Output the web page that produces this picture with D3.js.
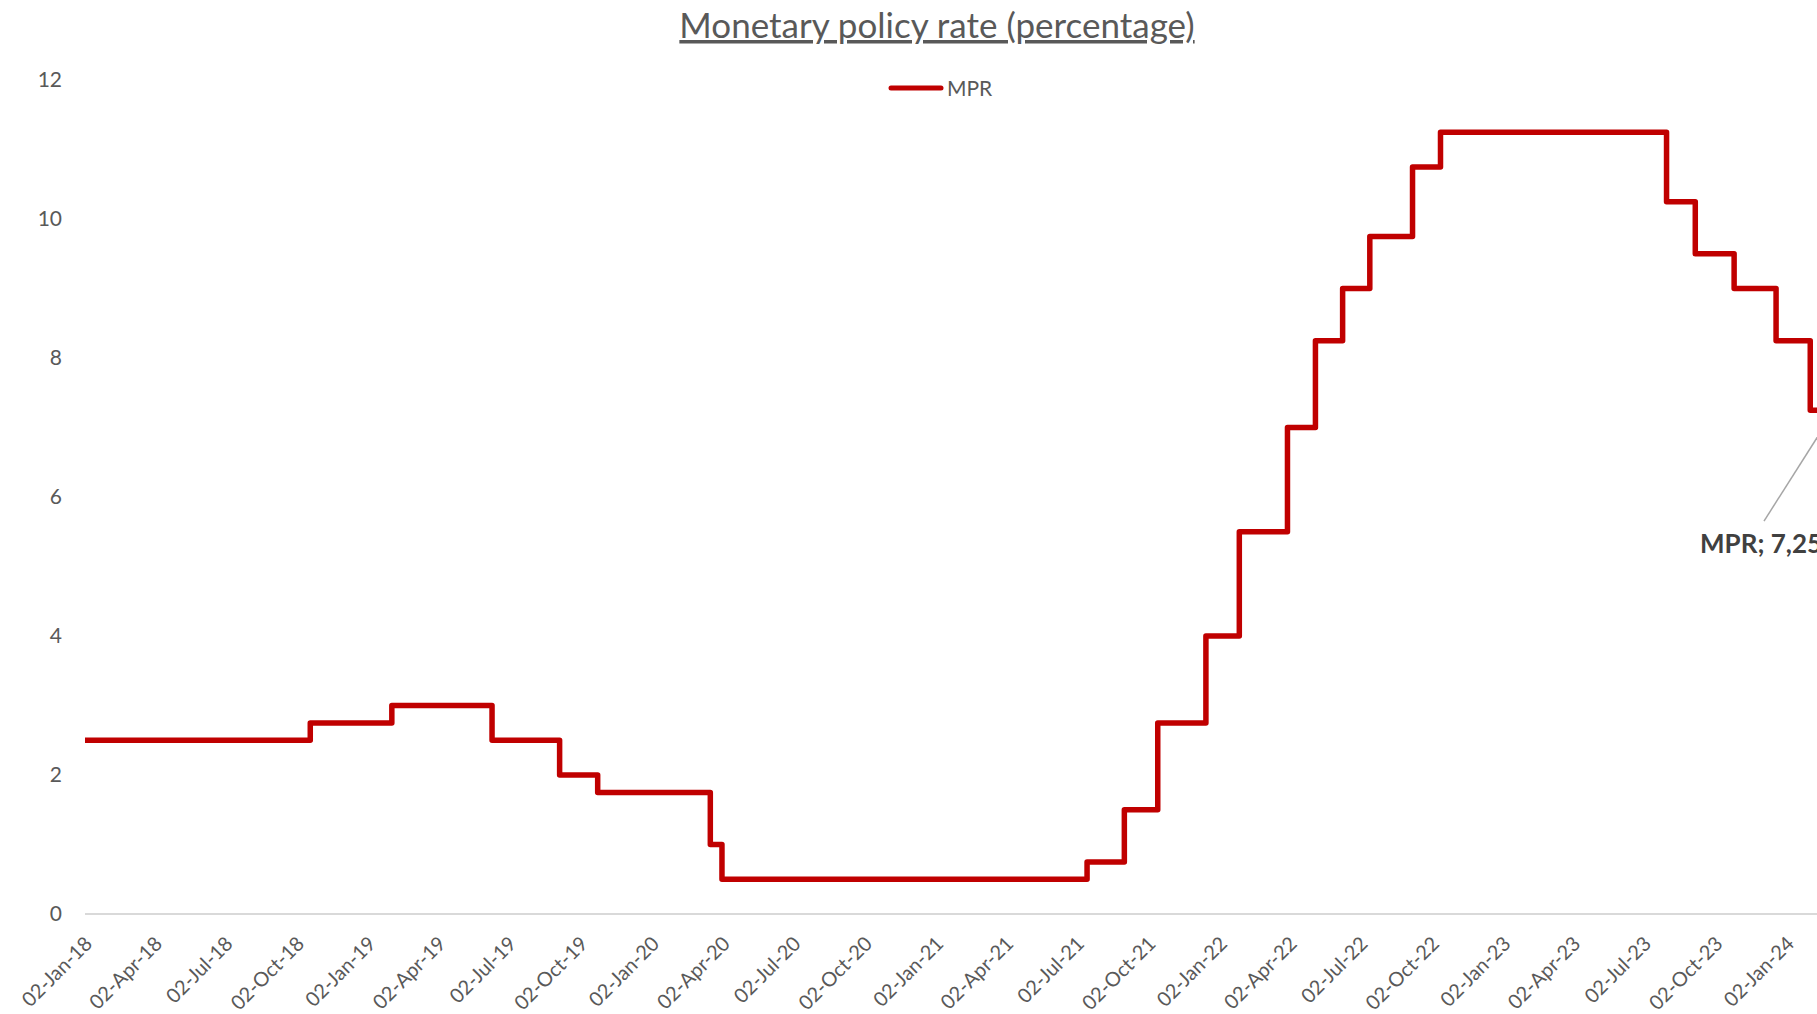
<!DOCTYPE html>
<html>
<head>
<meta charset="utf-8">
<script src="https://cdn.jsdelivr.net/npm/d3@7"></script>
<style>
  html, body { margin: 0; padding: 0; overflow: hidden; background: #fff; }
  svg { display: block; font-family: Lato, "Open Sans", sans-serif; }
</style>
</head>
<body>
<svg id="chart"></svg>
<script>
// Monetary policy rate: dates on which a new rate takes effect, and the rate (%)
const rateDates = [
  "2018-01-02", "2018-10-19", "2019-02-01", "2019-06-10", "2019-09-05",
  "2019-10-24", "2020-03-17", "2020-04-01", "2021-07-15", "2021-09-01",
  "2021-10-14", "2021-12-15", "2022-01-27", "2022-03-30", "2022-05-05",
  "2022-06-09", "2022-07-14", "2022-09-07", "2022-10-13", "2023-07-31",
  "2023-09-06", "2023-10-26", "2023-12-19", "2024-02-01", "2024-02-29"
];
const rateValues = [
  2.5, 2.75, 3.0, 2.5, 2.0,
  1.75, 1.0, 0.5, 0.75, 1.5,
  2.75, 4.0, 5.5, 7.0, 8.25,
  9.0, 9.75, 10.75, 11.25, 10.25,
  9.5, 9.0, 8.25, 7.25, 7.25
];
const seriesName = "MPR";
const chartTitle = "Monetary policy rate (percentage)";

// Quarterly date-axis ticks
const xTickDates = [
  "2018-01-02", "2018-04-02", "2018-07-02", "2018-10-02",
  "2019-01-02", "2019-04-02", "2019-07-02", "2019-10-02",
  "2020-01-02", "2020-04-02", "2020-07-02", "2020-10-02",
  "2021-01-02", "2021-04-02", "2021-07-02", "2021-10-02",
  "2022-01-02", "2022-04-02", "2022-07-02", "2022-10-02",
  "2023-01-02", "2023-04-02", "2023-07-02", "2023-10-02",
  "2024-01-02"
];
const yTicks = [0, 2, 4, 6, 8, 10, 12];

const parse = d3.utcParse("%Y-%m-%d");
const fmt = d3.utcFormat("%d-%b-%y");
const data = rateDates.map((d, i) => ({ date: parse(d), value: rateValues[i] }));

const W = 1874, H = 1014;
const plot = { left: 85, right: 1832, top: 80, bottom: 914 };

const svg = d3.select("#chart").attr("width", W).attr("height", H);

const x = d3.scaleUtc()
  .domain(d3.extent(data, d => d.date))
  .range([plot.left, plot.right]);
const y = d3.scaleLinear()
  .domain([0, 12])
  .range([plot.bottom, plot.top]);

const textGrey = "#595959";
const red = "#C00000";
const font = "Lato, 'Open Sans', sans-serif";

// Title
svg.append("text")
  .attr("x", 937).attr("y", 38)
  .attr("text-anchor", "middle")
  .attr("font-size", 35)
  .attr("fill", textGrey)
  .style("text-decoration", "underline")
  .text(chartTitle);

// Legend
const legend = svg.append("g");
legend.append("line")
  .attr("x1", 891).attr("x2", 941).attr("y1", 88).attr("y2", 88)
  .attr("stroke", red).attr("stroke-width", 5).attr("stroke-linecap", "round");
legend.append("text")
  .attr("x", 947).attr("y", 88).attr("dy", "0.36em")
  .attr("font-size", 21).attr("fill", textGrey)
  .text(seriesName);

// Y axis labels (no axis line, no gridlines)
const yAxis = d3.axisLeft(y).tickValues(yTicks).tickSize(0).tickPadding(0);
const gy = svg.append("g").attr("transform", `translate(62,0)`).call(yAxis);
gy.select(".domain").remove();
gy.selectAll("text")
  .attr("font-size", 21).attr("fill", textGrey)
  .attr("font-family", font);

// X axis: baseline and rotated date labels
const xAxis = d3.axisBottom(x)
  .tickValues(xTickDates.map(parse))
  .tickFormat(fmt)
  .tickSize(0)
  .tickPadding(0);
const gx = svg.append("g").attr("transform", `translate(0,${plot.bottom})`).call(xAxis);
gx.select(".domain")
  .attr("d", `M${plot.left},0H${W}`)
  .attr("stroke", "#d9d9d9").attr("stroke-width", 2);
gx.selectAll(".tick text")
  .attr("font-size", 20).attr("fill", textGrey)
  .attr("font-family", font)
  .attr("text-anchor", "end")
  .attr("y", 0).attr("dy", "0.35em")
  .attr("transform", "translate(3,26) rotate(-45)");

// Rate line
const line = d3.line()
  .x(d => x(d.date))
  .y(d => y(d.value))
  .curve(d3.curveStepAfter);
svg.append("path")
  .datum(data)
  .attr("d", line)
  .attr("fill", "none")
  .attr("stroke", red)
  .attr("stroke-width", 5.5)
  .attr("stroke-linejoin", "round");

// Data label on the last point with a leader line
const last = data[data.length - 1];
const px = x(last.date), py = y(last.value);
const labelX = px - 132, labelY = py + 143;
svg.append("line")
  .attr("x1", px).attr("y1", py + 4)
  .attr("x2", px - 68).attr("y2", py + 111)
  .attr("stroke", "#a6a6a6").attr("stroke-width", 1.5);
svg.append("text")
  .attr("x", labelX).attr("y", labelY)
  .attr("font-size", 26).attr("font-weight", "bold")
  .attr("fill", "#404040")
  .text(`${seriesName}; ${String(last.value).replace(".", ",")}`);
</script>
</body>
</html>
